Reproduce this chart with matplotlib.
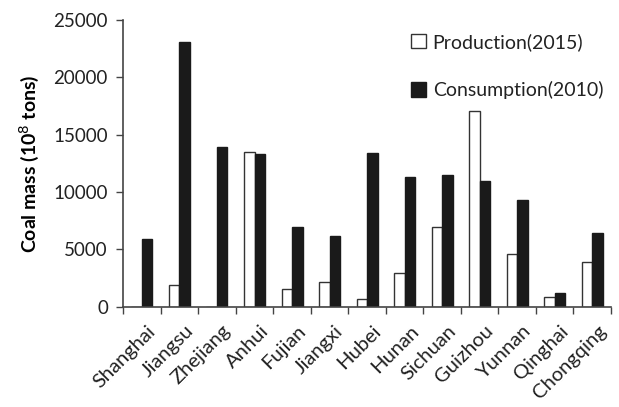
import matplotlib
matplotlib.use("Agg")
import matplotlib.pyplot as plt
import matplotlib.transforms as mtransforms
import numpy as np
from matplotlib.ticker import FixedLocator, NullFormatter

provinces = ["Shanghai", "Jiangsu", "Zhejiang", "Anhui", "Fujian", "Jiangxi", "Hubei",
             "Hunan", "Sichuan", "Guizhou", "Yunnan", "Qinghai", "Chongqing"]
production_2015 = [0, 1900, 0, 13500, 1550, 2150, 700, 2950, 6950, 17050, 4650, 900, 3900]
consumption_2010 = [5900, 23050, 13950, 13350, 6950, 6200, 13450, 11300, 11500, 10950, 9350, 1250, 6400]
yticks = [0, 5000, 10000, 15000, 20000, 25000]

plt.rcParams['font.family'] = ['Lato', 'DejaVu Sans']

fig = plt.figure(figsize=(6.19, 4.07), dpi=100)
ax = fig.add_axes([0.199, 0.246, 0.788, 0.705])

x = np.arange(len(provinces))
w = 0.28
ax.bar(x - w/2, production_2015, width=w, color='white', edgecolor='#333333', linewidth=1.0,
       label='Production(2015)')
ax.bar(x + w/2, consumption_2010, width=w, color='#1a1a1a', edgecolor='#1a1a1a', linewidth=1.0,
       label='Consumption(2010)')

ax.set_xlim(-0.5, len(provinces) - 0.5)
ax.set_ylim(0, 25000)
ax.set_yticks(yticks)
ax.set_yticklabels([str(v) for v in yticks], fontsize=13.5, color='#222222')
ax.set_xticks(x)
ax.set_xticklabels(provinces, rotation=45, ha='right', rotation_mode='anchor', fontsize=14.5,
                   color='#222222')
ax.tick_params(axis='x', which='major', length=0, pad=11)
offset = mtransforms.ScaledTranslation(5/100, 0, fig.dpi_scale_trans)
for lbl in ax.get_xticklabels():
    lbl.set_transform(lbl.get_transform() + offset)
ax.xaxis.set_minor_locator(FixedLocator(np.arange(-0.5, len(provinces), 1.0)))
ax.xaxis.set_minor_formatter(NullFormatter())
ax.tick_params(axis='x', which='minor', length=5, width=1, color='#444444', direction='out')
ax.tick_params(axis='y', length=5, width=1, color='#444444', direction='out', pad=6)

for s in ['top', 'right']:
    ax.spines[s].set_visible(False)
for s in ['left', 'bottom']:
    ax.spines[s].set_color('#444444')
    ax.spines[s].set_linewidth(1.2)

ax.set_ylabel('Coal mass (10$^{8}$ tons)', fontsize=14, fontweight='bold', labelpad=9)

leg = ax.legend(loc='upper right', bbox_to_anchor=(1.02, 1.015), frameon=False, fontsize=14,
                handlelength=0.75, handleheight=0.75, handletextpad=0.35, labelspacing=1.55)
for t in leg.get_texts():
    t.set_color('#222222')

fig.savefig('out.png', dpi=100)
